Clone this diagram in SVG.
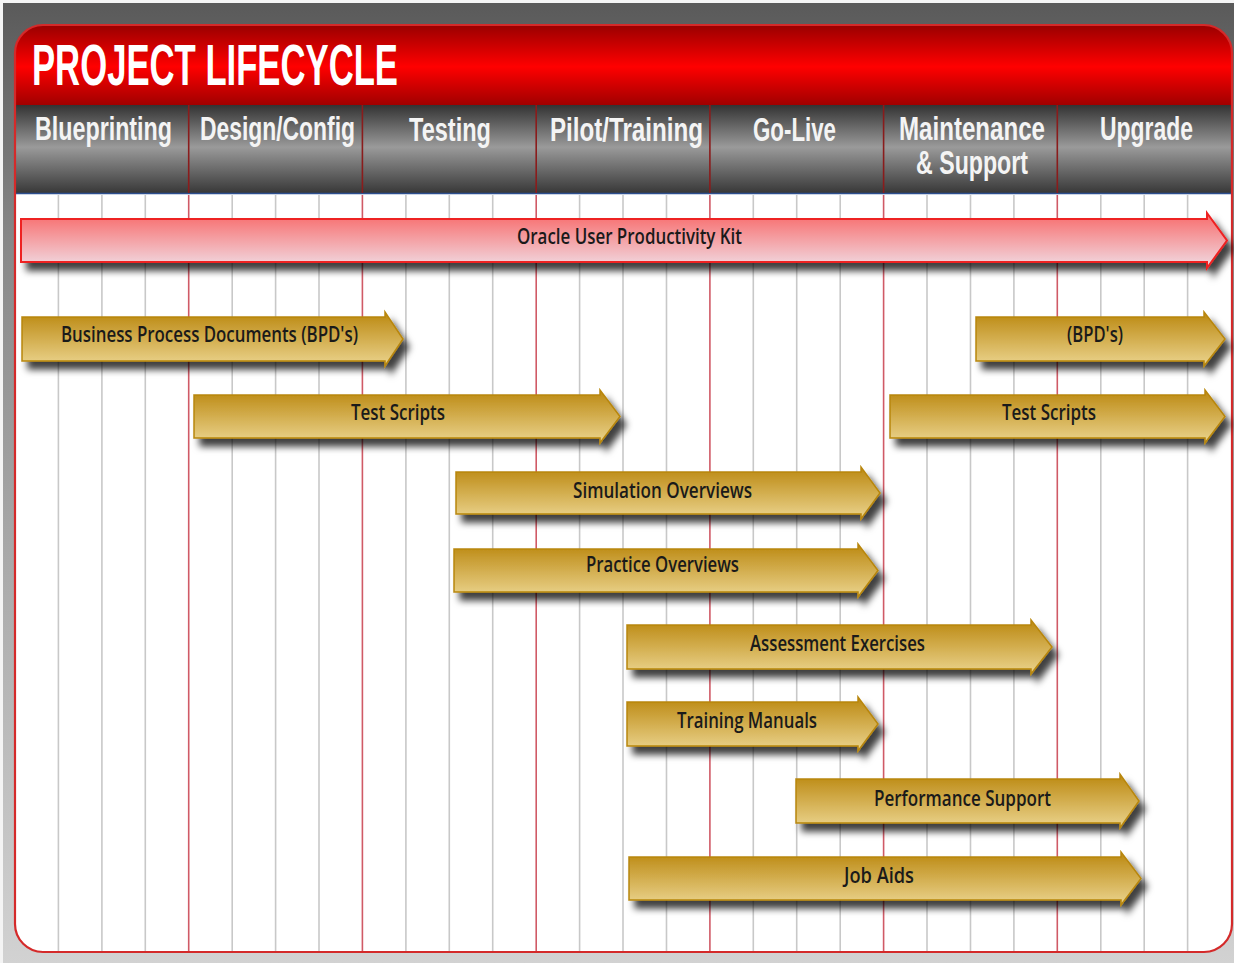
<svg xmlns="http://www.w3.org/2000/svg" width="1234" height="963" viewBox="0 0 1234 963">
<defs>
<linearGradient id="bg" x1="0" y1="0" x2="0" y2="1">
<stop offset="0" stop-color="#5a5a5a"/><stop offset="0.25" stop-color="#888"/><stop offset="0.6" stop-color="#ababab"/><stop offset="1" stop-color="#d2d2d2"/>
</linearGradient>
<linearGradient id="redHead" x1="0" y1="0" x2="0" y2="1">
<stop offset="0" stop-color="#990000"/><stop offset="0.52" stop-color="#ff0000"/><stop offset="1" stop-color="#a00000"/>
</linearGradient>
<linearGradient id="grayHead" x1="0" y1="0" x2="0" y2="1">
<stop offset="0" stop-color="#333"/><stop offset="0.48" stop-color="#9a9a9a"/><stop offset="1" stop-color="#383838"/>
</linearGradient>
<linearGradient id="gold" x1="0" y1="0" x2="0" y2="1">
<stop offset="0" stop-color="#bb8810"/><stop offset="1" stop-color="#ebd48e"/>
</linearGradient>
<linearGradient id="pink" x1="0" y1="0" x2="0" y2="1">
<stop offset="0" stop-color="#f86a6a"/><stop offset="1" stop-color="#f0dce4"/>
</linearGradient>
<filter id="sh" x="-5%" y="-40%" width="115%" height="200%">
<feDropShadow dx="6" dy="8" stdDeviation="3.5" flood-color="#000" flood-opacity="0.75"/>
</filter>
<style>
.title{font-family:"Liberation Sans Narrow","Liberation Sans",Arial,sans-serif;font-weight:bold;fill:#fff}
.col{font-family:"Liberation Sans Narrow","Liberation Sans",Arial,sans-serif;font-weight:bold;font-size:34px;fill:#f4f4f4}
.lbl{font-family:"Open Sans","Liberation Sans",sans-serif;font-weight:600;font-size:22px;fill:#1a1a1a}
.g{stroke:#c8c8c8;stroke-width:1.6}
.r{stroke:#d05a66;stroke-width:1.6}
.sep{stroke:#8a1c1c;stroke-width:1.6}
.bar{fill:url(#gold);stroke:#b8860b;stroke-width:1.5;filter:url(#sh)}
.upk{fill:url(#pink);stroke:#ee2020;stroke-width:2;filter:url(#sh)}
</style>
</defs>
<rect x="0" y="0" width="1234" height="963" fill="#f4f4f4"/>
<rect x="3" y="3" width="1231" height="960" fill="url(#bg)"/>
<g id="frame">
<path d="M15,53 A28,28 0 0 1 43,25 H1204 A28,28 0 0 1 1232,53 V924 A28,28 0 0 1 1204,952 H43 A28,28 0 0 1 15,924 Z" fill="#fff"/>
<path d="M15,53 A28,28 0 0 1 43,25 H1204 A28,28 0 0 1 1232,53 V105 H15 Z" fill="url(#redHead)"/>
<rect x="15" y="105" width="1217" height="88" fill="url(#grayHead)"/>
<line x1="15" y1="193.5" x2="1232" y2="193.5" stroke="#2d4f8f" stroke-width="1.5"/>
</g>
<g id="grid">
<g class="g">
<line x1="58.4" y1="195" x2="58.4" y2="951"/><line x1="101.9" y1="195" x2="101.9" y2="951"/><line x1="145.3" y1="195" x2="145.3" y2="951"/>
<line x1="232.2" y1="195" x2="232.2" y2="951"/><line x1="275.6" y1="195" x2="275.6" y2="951"/><line x1="319" y1="195" x2="319" y2="951"/>
<line x1="405.9" y1="195" x2="405.9" y2="951"/><line x1="449.3" y1="195" x2="449.3" y2="951"/><line x1="492.7" y1="195" x2="492.7" y2="951"/>
<line x1="579.6" y1="195" x2="579.6" y2="951"/><line x1="623" y1="195" x2="623" y2="951"/><line x1="666.5" y1="195" x2="666.5" y2="951"/>
<line x1="753.3" y1="195" x2="753.3" y2="951"/><line x1="796.7" y1="195" x2="796.7" y2="951"/><line x1="840.2" y1="195" x2="840.2" y2="951"/>
<line x1="927" y1="195" x2="927" y2="951"/><line x1="970.5" y1="195" x2="970.5" y2="951"/><line x1="1013.9" y1="195" x2="1013.9" y2="951"/>
<line x1="1100.8" y1="195" x2="1100.8" y2="951"/><line x1="1144.2" y1="195" x2="1144.2" y2="951"/><line x1="1187.6" y1="195" x2="1187.6" y2="951"/>
</g>
<g class="r">
<line x1="188.7" y1="195" x2="188.7" y2="951"/><line x1="362.4" y1="195" x2="362.4" y2="951"/><line x1="536.2" y1="195" x2="536.2" y2="951"/>
<line x1="709.9" y1="195" x2="709.9" y2="951"/><line x1="883.6" y1="195" x2="883.6" y2="951"/><line x1="1057.3" y1="195" x2="1057.3" y2="951"/>
</g>
<g class="sep">
<line x1="188.7" y1="105" x2="188.7" y2="193"/><line x1="362.4" y1="105" x2="362.4" y2="193"/><line x1="536.2" y1="105" x2="536.2" y2="193"/>
<line x1="709.9" y1="105" x2="709.9" y2="193"/><line x1="883.6" y1="105" x2="883.6" y2="193"/><line x1="1057.3" y1="105" x2="1057.3" y2="193"/>
</g>
</g>
<path d="M15,53 A28,28 0 0 1 43,25 H1204 A28,28 0 0 1 1232,53 V924 A28,28 0 0 1 1204,952 H43 A28,28 0 0 1 15,924 Z" fill="none" stroke="#d42a2a" stroke-width="2.2"/>
<g id="title"><text class="title" x="32" y="85" font-size="58" textLength="366" lengthAdjust="spacingAndGlyphs">PROJECT LIFECYCLE</text></g>
<g id="phases">
<text class="col" x="35" y="140" textLength="137" lengthAdjust="spacingAndGlyphs">Blueprinting</text>
<text class="col" x="200" y="140" textLength="155" lengthAdjust="spacingAndGlyphs">Design/Config</text>
<text class="col" x="409" y="141" textLength="82" lengthAdjust="spacingAndGlyphs">Testing</text>
<text class="col" x="550" y="141" textLength="153" lengthAdjust="spacingAndGlyphs">Pilot/Training</text>
<text class="col" x="753" y="141" textLength="83" lengthAdjust="spacingAndGlyphs">Go-Live</text>
<text class="col" x="899" y="140" textLength="146" lengthAdjust="spacingAndGlyphs">Maintenance</text>
<text class="col" x="916" y="174" textLength="112" lengthAdjust="spacingAndGlyphs">&amp; Support</text>
<text class="col" x="1100" y="140" textLength="93" lengthAdjust="spacingAndGlyphs">Upgrade</text>
</g>
<g id="upk">
<path class="upk" d="M21,219 H1207 V213 L1227,240.5 L1207,268 V262 H21 Z"/>
<text class="lbl" x="517" y="244" font-size="21" textLength="225" lengthAdjust="spacingAndGlyphs">Oracle User Productivity Kit</text>
</g>
<g id="bpd">
<path class="bar" d="M22,317 H385 V312 L403,339 L385,366 V361 H22 Z"/>
<text class="lbl" x="61" y="342" textLength="297" lengthAdjust="spacingAndGlyphs">Business Process Documents (BPD's)</text>
</g>
<g id="testscripts1">
<path class="bar" d="M194,395 H600 V390 L620,416.5 L600,443 V438 H194 Z"/>
<text class="lbl" x="351" y="420" textLength="94" lengthAdjust="spacingAndGlyphs">Test Scripts</text>
</g>
<g id="bpd2">
<path class="bar" d="M976,317 H1204 V312 L1225,339 L1204,366 V361 H976 Z"/>
<text class="lbl" x="1067" y="342" textLength="56" lengthAdjust="spacingAndGlyphs">(BPD's)</text>
</g>
<g id="testscripts2">
<path class="bar" d="M890,395 H1205 V390 L1225,416.5 L1205,443 V438 H890 Z"/>
<text class="lbl" x="1002" y="420" textLength="94" lengthAdjust="spacingAndGlyphs">Test Scripts</text>
</g>
<g id="simulation">
<path class="bar" d="M456,472 H861 V467 L880,493 L861,519 V514 H456 Z"/>
<text class="lbl" x="573" y="498" textLength="179" lengthAdjust="spacingAndGlyphs">Simulation Overviews</text>
</g>
<g id="practice">
<path class="bar" d="M454,549 H858 V544 L878,570.5 L858,597 V592 H454 Z"/>
<text class="lbl" x="586" y="572" textLength="153" lengthAdjust="spacingAndGlyphs">Practice Overviews</text>
</g>
<g id="assessment">
<path class="bar" d="M627,625 H1031 V620 L1052,647 L1031,674 V669 H627 Z"/>
<text class="lbl" x="750" y="651" textLength="175" lengthAdjust="spacingAndGlyphs">Assessment Exercises</text>
</g>
<g id="training">
<path class="bar" d="M627,702 H858 V697 L878,724 L858,751 V746 H627 Z"/>
<text class="lbl" x="677" y="728" textLength="140" lengthAdjust="spacingAndGlyphs">Training Manuals</text>
</g>
<g id="performance">
<path class="bar" d="M796,779 H1120 V774 L1139,801 L1120,828 V823 H796 Z"/>
<text class="lbl" x="874" y="806" textLength="177" lengthAdjust="spacingAndGlyphs">Performance Support</text>
</g>
<g id="jobaids">
<path class="bar" d="M629,857 H1121 V852 L1141,878.5 L1121,905 V900 H629 Z"/>
<text class="lbl" x="844" y="883" textLength="70" lengthAdjust="spacingAndGlyphs">Job Aids</text>
</g>
</svg>
